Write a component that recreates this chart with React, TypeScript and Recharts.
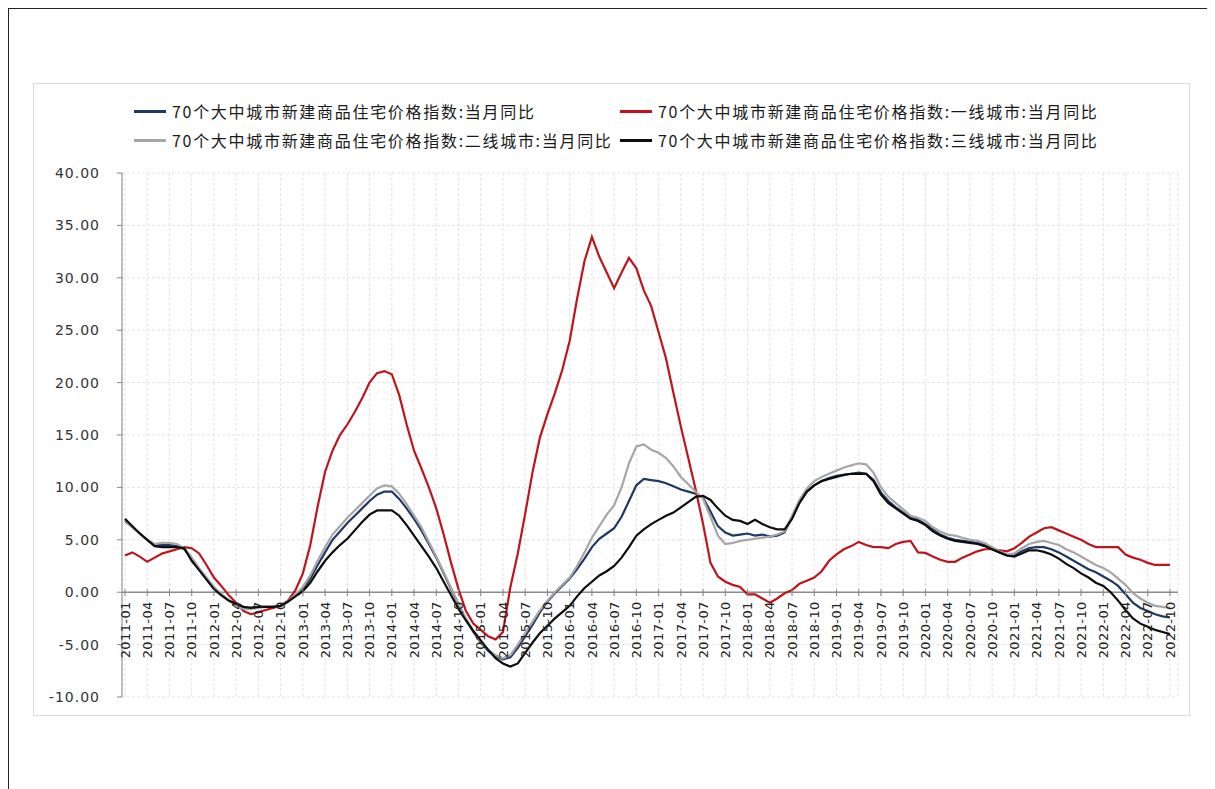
import React from "react"
import {
  LineChart,
  Line,
  XAxis,
  YAxis,
  CartesianGrid,
  ReferenceLine,
} from "recharts"

// 2011-01 .. 2022-10, monthly
const months: string[] = []
for (let yr = 2011; yr <= 2022; yr++) {
  for (let mo = 1; mo <= 12; mo++) {
    if (yr === 2022 && mo > 10) break
    months.push(`${yr}-${String(mo).padStart(2, "0")}`)
  }
}

const yTicks = [-10, -5, 0, 5, 10, 15, 20, 25, 30, 35, 40]

// 70个大中城市:当月同比
const national = [
  6.8, 6.2, 5.6, 5.0, 4.5, 4.5, 4.5, 4.4, 4.1, 3.2, 2.2, 1.3,
  0.4, -0.2, -0.8, -1.2, -1.5, -1.5, -1.4, -1.4, -1.4, -1.3, -0.9, -0.3,
  0.3, 1.3, 2.6, 3.8, 5.0, 5.8, 6.6, 7.3, 8.0, 8.7, 9.3, 9.6,
  9.6, 8.9, 8.0, 7.0, 5.9, 4.6, 3.3, 1.8, 0.3, -1.2, -2.6, -3.8,
  -4.8, -5.6, -6.1, -6.4, -6.2, -5.3, -4.2, -3.1, -1.9, -0.9, -0.1, 0.6,
  1.3, 2.2, 3.2, 4.3, 5.1, 5.6, 6.1, 7.2, 8.7, 10.2, 10.8, 10.7,
  10.6, 10.4, 10.1, 9.8, 9.6, 9.4, 9.0, 7.7, 6.3, 5.7, 5.4, 5.5,
  5.6, 5.4, 5.5, 5.3, 5.4, 5.7, 7.2, 8.6, 9.6, 10.2, 10.6, 10.9,
  11.1, 11.2, 11.3, 11.4, 11.3, 10.7, 9.5, 8.7, 8.1, 7.6, 7.1, 6.9,
  6.5, 6.0, 5.5, 5.2, 5.0, 4.9, 4.8, 4.7, 4.5, 4.1, 3.8, 3.5,
  3.5, 3.9, 4.2, 4.3, 4.3, 4.1, 3.8, 3.4, 3.0, 2.6, 2.2, 1.9,
  1.5, 1.1, 0.6, -0.2, -1.0, -1.5, -1.8, -2.1, -2.3, -2.4,
]

// 一线城市
const tier1 = [
  3.5, 3.8, 3.4, 2.9, 3.3, 3.7, 3.9, 4.1, 4.3, 4.2, 3.7, 2.6,
  1.4, 0.6, -0.3, -1.0, -1.8, -2.1, -1.9, -1.7, -1.5, -1.3, -0.8, 0.2,
  1.8, 4.5, 8.2, 11.5, 13.5, 15.0, 16.0, 17.2, 18.5, 20.0, 20.9, 21.1,
  20.8, 18.8, 16.0, 13.5, 11.8, 10.0, 8.0, 5.5, 2.8, 0.3, -1.8, -3.0,
  -3.6, -4.2, -4.5, -3.8, 0.5, 3.7, 7.5, 11.5, 14.8, 17.0, 19.0, 21.2,
  24.0, 28.0, 31.6, 33.9, 32.0, 30.5, 29.0, 30.5, 31.9, 30.9, 28.8, 27.3,
  24.8, 22.3, 19.0, 15.8, 12.8, 9.8, 6.5, 2.8, 1.5, 1.0, 0.7, 0.5,
  -0.2, -0.2, -0.6, -1.0, -0.6, -0.1, 0.2, 0.8, 1.1, 1.4, 2.0, 3.0,
  3.6, 4.1, 4.4, 4.8, 4.5, 4.3, 4.3, 4.2, 4.6, 4.8, 4.9, 3.8,
  3.75, 3.4, 3.1, 2.9, 2.9, 3.3, 3.6, 3.9, 4.1, 4.1, 4.0, 3.9,
  4.2, 4.7, 5.3, 5.7, 6.1, 6.2, 5.9, 5.6, 5.3, 5.0, 4.6, 4.3,
  4.3, 4.3, 4.3, 3.6, 3.3, 3.1, 2.8, 2.6, 2.6, 2.6,
]

// 二线城市
const tier2 = [
  6.9, 6.2, 5.6, 5.0, 4.6, 4.7, 4.7, 4.6, 4.2, 3.3, 2.3, 1.4,
  0.5, -0.2, -0.8, -1.3, -1.6, -1.6, -1.5, -1.4, -1.4, -1.3, -0.9, -0.2,
  0.5, 1.6, 3.0, 4.3, 5.5, 6.3, 7.1, 7.8, 8.5, 9.2, 9.9, 10.2,
  10.1, 9.4, 8.4, 7.3, 6.2, 4.8, 3.4, 1.9, 0.4, -1.1, -2.5, -3.7,
  -4.7, -5.5, -6.0, -6.3, -6.0, -5.0, -3.9, -2.8, -1.7, -0.8, 0.0, 0.7,
  1.4, 2.5, 3.8, 5.2, 6.3, 7.4, 8.3, 10.0, 12.3, 13.9, 14.1, 13.6,
  13.3, 12.8, 12.0, 11.0, 10.3, 9.6, 8.9, 7.2, 5.4, 4.6, 4.7, 4.9,
  5.0, 5.1, 5.2, 5.3, 5.5, 5.8, 7.3, 8.8, 9.9, 10.6, 11.0, 11.3,
  11.6, 11.9, 12.1, 12.3, 12.2, 11.4, 10.0, 9.1, 8.5, 7.9, 7.3, 7.1,
  6.8, 6.2, 5.8, 5.5, 5.4, 5.2, 5.0, 4.9, 4.7, 4.3, 3.9, 3.6,
  3.7, 4.2, 4.6, 4.8, 4.9, 4.7, 4.5, 4.1, 3.8, 3.4, 3.0, 2.6,
  2.3, 1.9, 1.3, 0.7, -0.1, -0.6, -1.0, -1.3, -1.4, -1.5,
]

// 三线城市
const tier3 = [
  7.0, 6.3, 5.6, 5.0, 4.4, 4.3, 4.3, 4.3, 4.2, 3.0, 2.1, 1.2,
  0.3, -0.3, -0.8, -1.1, -1.4, -1.5, -1.4, -1.4, -1.4, -1.3, -0.9, -0.4,
  0.1, 0.9, 2.0, 3.0, 3.8, 4.5, 5.1, 5.9, 6.7, 7.4, 7.8, 7.8,
  7.8, 7.3, 6.4, 5.4, 4.4, 3.4, 2.3, 1.0, -0.3, -1.6, -2.7, -3.7,
  -4.6, -5.5, -6.3, -6.8, -7.1, -6.8, -5.8, -4.8, -3.9, -3.2, -2.5, -1.9,
  -1.3, -0.4, 0.4, 1.0, 1.6, 2.0, 2.5, 3.3, 4.3, 5.4, 6.0, 6.5,
  6.9, 7.3, 7.6, 8.1, 8.6, 9.1, 9.2, 8.8, 8.0, 7.3, 6.9, 6.8,
  6.5, 6.9, 6.5, 6.2, 6.0, 6.0, 7.0, 8.5, 9.6, 10.2, 10.6, 10.8,
  11.0, 11.2, 11.3, 11.3, 11.3, 10.6, 9.3, 8.5, 8.0, 7.5, 7.0, 6.8,
  6.4, 5.8, 5.4, 5.1, 4.9, 4.8, 4.7, 4.6, 4.4, 4.1, 3.8, 3.5,
  3.4, 3.7, 4.0, 4.0, 3.85, 3.6, 3.2, 2.7, 2.3, 1.8, 1.4, 0.9,
  0.6, 0.0, -0.8, -1.7, -2.5, -3.0, -3.3, -3.6, -3.8, -4.0,
]

const series = [
  { key: "national", name: "70个大中城市新建商品住宅价格指数:当月同比", color: "#1f3864" },
  { key: "tier1", name: "70个大中城市新建商品住宅价格指数:一线城市:当月同比", color: "#c0141c" },
  { key: "tier2", name: "70个大中城市新建商品住宅价格指数:二线城市:当月同比", color: "#a6a6a6" },
  { key: "tier3", name: "70个大中城市新建商品住宅价格指数:三线城市:当月同比", color: "#0d0d0d" },
]

const data = months.map((m, i) => ({
  month: m,
  national: national[i],
  tier1: tier1[i],
  tier2: tier2[i],
  tier3: tier3[i],
}))

const Y_MIN = -10
const Y_MAX = 40
const PLOT_TOP = 164
const PLOT_BOTTOM = 688
const PLOT_H = PLOT_BOTTOM - PLOT_TOP

// x labels sit under the zero line, not under the plot bottom
function MonthTick(props: any) {
  const { x, y, payload } = props
  const zeroY = y - (PLOT_H * (0 - Y_MIN)) / (Y_MAX - Y_MIN)
  const ty = zeroY + 9
  return (
    <g>
      <line x1={x} x2={x} y1={zeroY - 3} y2={zeroY + 4} stroke="#868686" strokeWidth={1} />
      <text
        x={x}
        y={ty}
        dy="0.36em"
        textAnchor="end"
        transform={`rotate(-90, ${x}, ${ty})`}
        fontSize={13}
        fontFamily="DejaVu Sans"
        fill="#222"
        letterSpacing={0.4}
      >
        {payload.value}
      </text>
    </g>
  )
}

function ChartLegend() {
  const cols = [125, 611]
  return (
    <>
      {series.map((s, i) => (
        <div
          key={s.key}
          style={{
            position: "absolute",
            left: cols[i % 2],
            top: 92 + Math.floor(i / 2) * 29,
            display: "flex",
            alignItems: "center",
            whiteSpace: "nowrap",
          }}
        >
          <span style={{ display: "inline-block", width: 32, height: 3, background: s.color, marginRight: 6 }} />
          <span
            style={{
              fontFamily: "'Noto Sans CJK SC', 'Noto Sans', sans-serif",
              fontSize: 16,
              letterSpacing: 1.7,
              color: "#1a1a1a",
              lineHeight: "20px",
            }}
          >
            {s.name}
          </span>
        </div>
      ))}
    </>
  )
}

export default function App() {
  return (
    <div
      style={{
        position: "relative",
        width: 1206,
        height: 780,
        borderTop: "1px solid #222",
        borderLeft: "1px solid #222",
        background: "#fff",
      }}
    >
      {/* chart frame */}
      <div
        style={{
          position: "absolute",
          left: 24,
          top: 74,
          width: 1157,
          height: 633,
          border: "1px solid #dcdcdc",
          boxSizing: "border-box",
        }}
      />
      <ChartLegend />
      <div style={{ position: "absolute", left: 0, top: 0 }}>
        <LineChart
          width={1206}
          height={780}
          data={data}
          margin={{ top: PLOT_TOP, right: 37, bottom: 62, left: 43 }}
        >
          <CartesianGrid stroke="#e3e3e3" strokeDasharray="3 2" />
          <XAxis
            dataKey="month"
            interval={2}
            axisLine={false}
            tickLine={false}
            tickSize={0}
            tickMargin={0}
            height={30}
            padding={{ left: 3, right: 8 }}
            tick={<MonthTick />}
          />
          <YAxis
            width={70}
            domain={[Y_MIN, Y_MAX]}
            ticks={yTicks}
            allowDataOverflow
            tickFormatter={(v: number) => v.toFixed(2)}
            axisLine={{ stroke: "#868686" }}
            tickLine={{ stroke: "#868686" }}
            tickSize={5}
            tickMargin={17}
            tick={{ fontSize: 14, fontFamily: "DejaVu Sans", fill: "#333", letterSpacing: 1 }}
          />
          <ReferenceLine y={0} stroke="#8c8c8c" strokeWidth={1.5} />
          {series.map((s) => (
            <Line
              key={s.key}
              type="linear"
              dataKey={s.key}
              name={s.name}
              stroke={s.color}
              strokeWidth={2.2}
              dot={false}
              isAnimationActive={false}
            />
          ))}
        </LineChart>
      </div>
    </div>
  )
}
